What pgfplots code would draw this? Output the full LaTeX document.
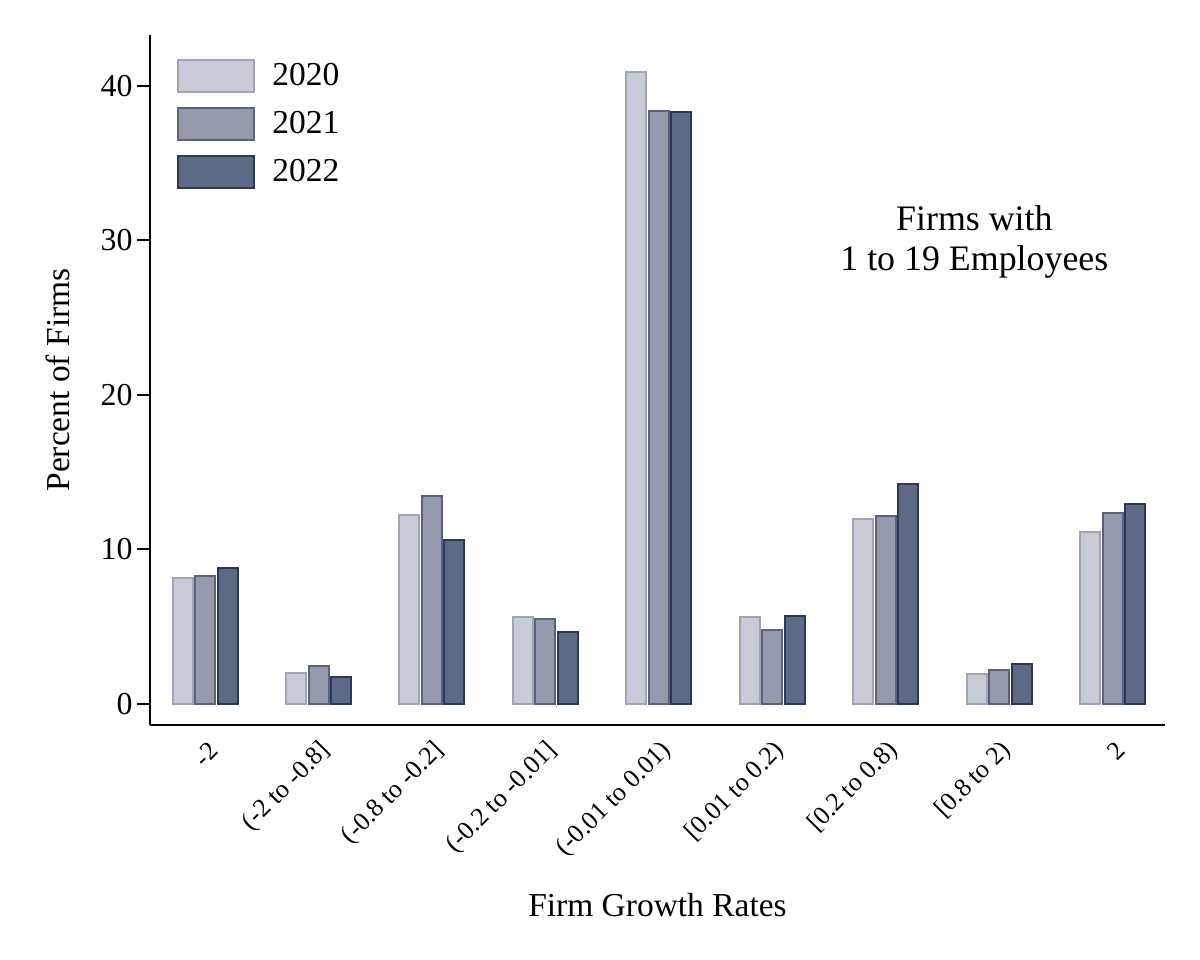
\documentclass[border=0pt]{standalone}
\usepackage{pgfplots}
\pgfplotsset{compat=1.18}
\usepackage{fontspec}
\setmainfont{Liberation Serif}
\definecolor{fA}{HTML}{C8CCD6}
\definecolor{eA}{HTML}{A0A4B4}
\definecolor{fB}{HTML}{9499AB}
\definecolor{eB}{HTML}{5A607D}
\definecolor{fC}{HTML}{5E6985}
\definecolor{eC}{HTML}{2D375A}
\begin{document}
\begin{tikzpicture}
\useasboundingbox (-75bp,-117.5bp) rectangle (525bp,362.5bp);
\begin{axis}[
  scale only axis, width=507.5bp, height=345bp,
  xmin=-0.485, xmax=8.46, ymin=-1.36, ymax=43.3,
  axis x line=bottom, axis y line=left,
  axis line style={-, line width=1bp, black},
  ybar, bar width=10bp, ybar=1.25bp,
  xtick={0,1,2,3,4,5,6,7,8},
  xticklabels={{-2},{(-2 to -0.8]},{(-0.8 to -0.2]},{(-0.2 to -0.01]},{(-0.01 to 0.01)},{[0.01 to 0.2)},{[0.2 to 0.8)},{[0.8 to 2)},{2}},
  x tick style={draw=none},
  xticklabel style={rotate=45, anchor=east, font=\fontsize{13}{15}\selectfont, inner sep=2bp, yshift=-6bp, xshift=2bp},
  ytick={0,10,20,30,40},
  y tick style={line width=1bp, black},
  tick align=outside, major tick length=6.5bp,
  yticklabel style={font=\fontsize{16}{18}\selectfont, inner sep=2bp},
  /pgf/number format/assume math mode=true,
  xlabel={Firm Growth Rates},
  ylabel={Percent of Firms},
  xlabel style={at={(axis description cs:0.5,-0.261)}, anchor=center, font=\fontsize{16.8}{20}\selectfont},
  ylabel style={at={(axis description cs:-0.0906,0.5)}, anchor=center, font=\fontsize{16.8}{20}\selectfont},
  legend image code/.code={\draw[#1] (0bp,-8bp) rectangle (38bp,8bp);},
  legend style={draw=none, fill=none, at={(axis description cs:0.0207,0.871)}, anchor=west,
    font=\fontsize{16.8}{19}\selectfont, row sep=7bp,
    nodes={inner sep=0pt, anchor=west}},
  legend cell align=left,
  clip=false,
]
\addplot[fill=fA, draw=eA, line width=1bp] coordinates {(0,8.15) (1,2.0) (2,12.23) (3,5.63) (4,40.9) (5,5.63) (6,11.97) (7,1.94) (8,11.13)};
\addplot[fill=fB, draw=eB, line width=1bp] coordinates {(0,8.28) (1,2.46) (2,13.46) (3,5.5) (4,38.4) (5,4.8) (6,12.17) (7,2.2) (8,12.36)};
\addplot[fill=fC, draw=eC, line width=1bp] coordinates {(0,8.8) (1,1.75) (2,10.6) (3,4.66) (4,38.3) (5,5.7) (6,14.24) (7,2.59) (8,12.94)};
\legend{\hspace{8.5bp}2020,\hspace{8.5bp}2021,\hspace{8.5bp}2022}
\node[align=center, font=\fontsize{18}{20}\selectfont] at (axis cs:6.78,29.9) {Firms with\\1 to 19 Employees};
\end{axis}
\end{tikzpicture}
\end{document}
